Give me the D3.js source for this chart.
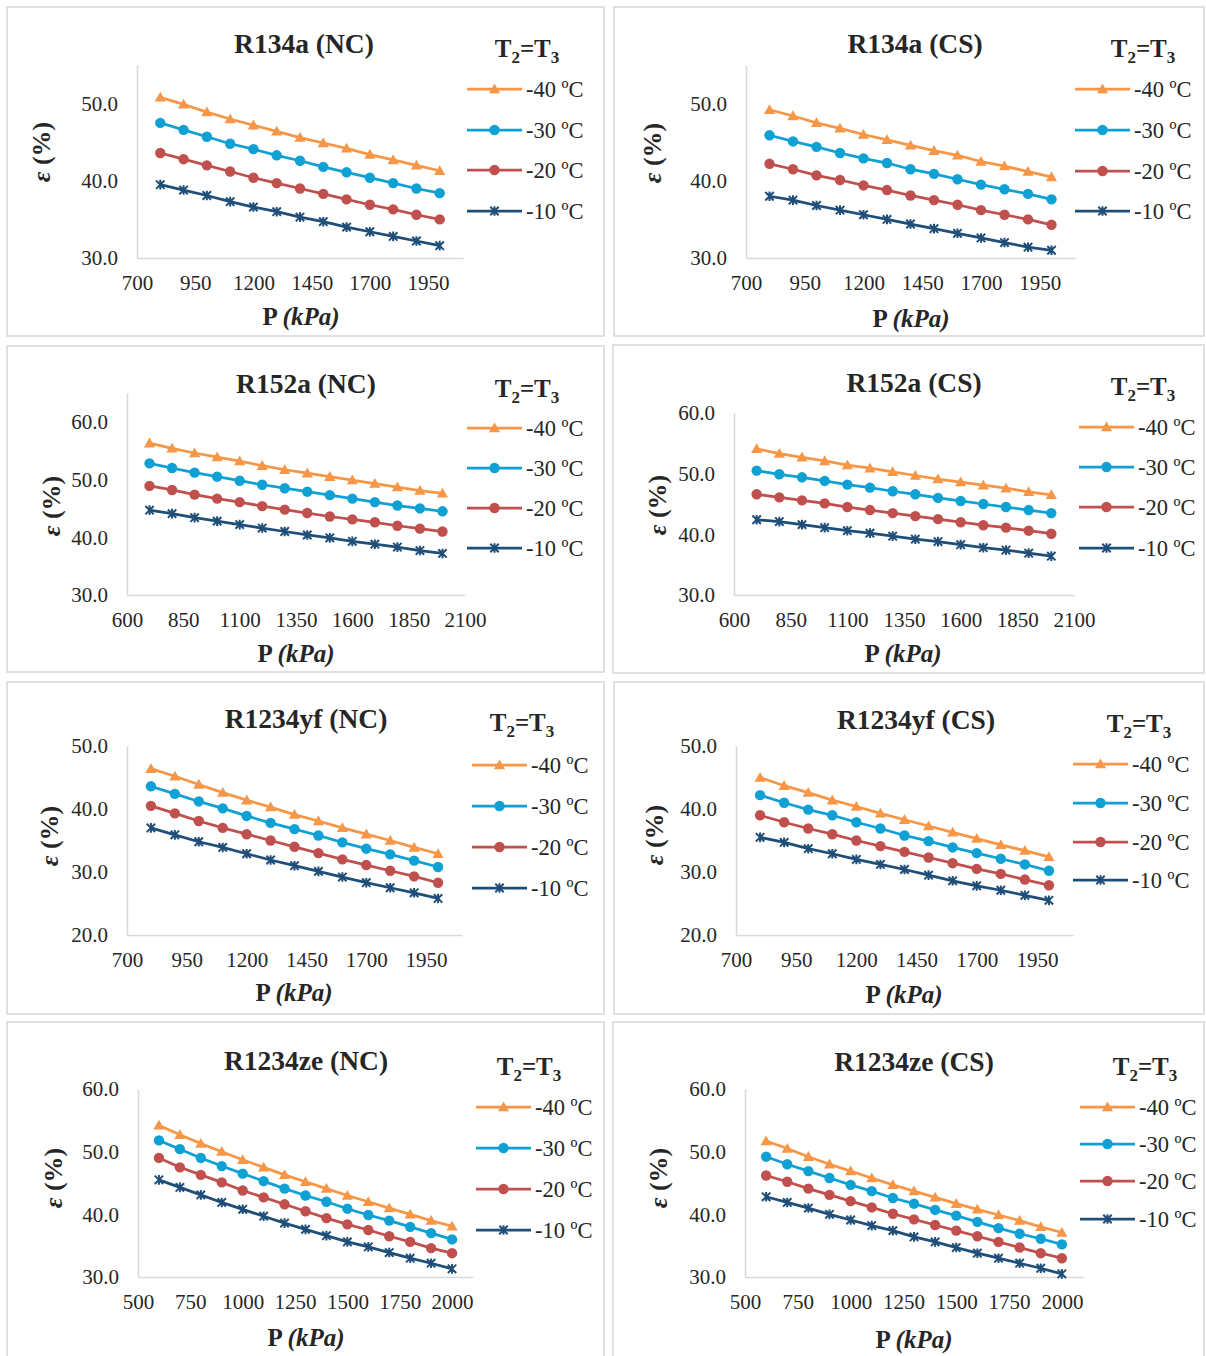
<!DOCTYPE html>
<html>
<head>
<meta charset="utf-8">
<script src="https://cdn.jsdelivr.net/npm/d3@7"></script>
<style>
  body { margin: 0; background: #fff; }
  svg { display: block; }
  text { font-family: "Liberation Serif", "Times New Roman", serif; fill: #262626; }
</style>
</head>
<body>
<svg id="chart" width="1206" height="1356"></svg>
<script>
// ---- series definitions (condenser temperature T2=T3) ----
const seriesLabels  = ["-40 ºC", "-30 ºC", "-20 ºC", "-10 ºC"];
const seriesColors  = ["#F79646", "#0FA0D4", "#C0504D", "#1F4E79"];
const seriesMarkers = ["triangle", "circle", "circle", "star"];

// ---- pressure grids (kPa) ----
const pressure800 = [800, 900, 1000, 1100, 1200, 1300, 1400, 1500, 1600, 1700, 1800, 1900, 2000];
const pressure700 = [700, 800, 900, 1000, 1100, 1200, 1300, 1400, 1500, 1600, 1700, 1800, 1900, 2000];
const pressure600 = [600, 700, 800, 900, 1000, 1100, 1200, 1300, 1400, 1500, 1600, 1700, 1800, 1900, 2000];

// ---- tick values ----
const xTicks700 = [700, 950, 1200, 1450, 1700, 1950];
const xTicks600 = [600, 850, 1100, 1350, 1600, 1850, 2100];
const xTicks500 = [500, 750, 1000, 1250, 1500, 1750, 2000];
const yTicks30to50 = [30, 40, 50];
const yTicks30to60 = [30, 40, 50, 60];
const yTicks20to50 = [20, 30, 40, 50];

// ---- efficiency ε (%) : R134a ----
const r134aNC_m40 = [50.8, 49.9, 48.9, 48.0, 47.2, 46.4, 45.6, 44.9, 44.2, 43.4, 42.7, 42.0, 41.3];
const r134aNC_m30 = [47.5, 46.6, 45.7, 44.8, 44.1, 43.3, 42.6, 41.8, 41.1, 40.4, 39.7, 39.0, 38.4];
const r134aNC_m20 = [43.6, 42.8, 42.0, 41.2, 40.4, 39.7, 39.0, 38.3, 37.6, 36.9, 36.3, 35.6, 35.0];
const r134aNC_m10 = [39.5, 38.8, 38.1, 37.3, 36.6, 36.0, 35.3, 34.7, 34.0, 33.4, 32.8, 32.2, 31.6];

const r134aCS_m40 = [49.2, 48.4, 47.5, 46.8, 46.0, 45.3, 44.6, 43.9, 43.3, 42.5, 41.9, 41.2, 40.5];
const r134aCS_m30 = [45.9, 45.1, 44.4, 43.6, 42.9, 42.3, 41.5, 40.9, 40.2, 39.5, 38.9, 38.3, 37.6];
const r134aCS_m20 = [42.2, 41.5, 40.7, 40.1, 39.4, 38.8, 38.1, 37.5, 36.9, 36.2, 35.6, 35.0, 34.3];
const r134aCS_m10 = [38.0, 37.5, 36.8, 36.2, 35.6, 35.0, 34.4, 33.8, 33.2, 32.6, 32.0, 31.4, 31.0];

// ---- R152a ----
const r152aNC_m40 = [56.3, 55.4, 54.6, 53.9, 53.2, 52.4, 51.7, 51.1, 50.5, 49.9, 49.3, 48.7, 48.1, 47.6];
const r152aNC_m30 = [52.8, 52.0, 51.2, 50.5, 49.8, 49.1, 48.5, 47.9, 47.3, 46.7, 46.1, 45.5, 45.0, 44.5];
const r152aNC_m20 = [48.9, 48.2, 47.4, 46.7, 46.1, 45.4, 44.8, 44.2, 43.6, 43.1, 42.6, 42.0, 41.5, 41.0];
const r152aNC_m10 = [44.7, 44.1, 43.4, 42.8, 42.2, 41.6, 41.0, 40.4, 39.9, 39.3, 38.8, 38.3, 37.7, 37.2];

const r152aCS_m40 = [54.1, 53.3, 52.7, 52.1, 51.4, 50.9, 50.3, 49.7, 49.1, 48.6, 48.1, 47.6, 47.0, 46.5];
const r152aCS_m30 = [50.5, 49.9, 49.4, 48.8, 48.2, 47.7, 47.1, 46.6, 46.0, 45.5, 45.0, 44.5, 44.0, 43.5];
const r152aCS_m20 = [46.6, 46.1, 45.6, 45.1, 44.5, 44.0, 43.5, 43.0, 42.5, 42.0, 41.5, 41.1, 40.6, 40.1];
const r152aCS_m10 = [42.4, 42.1, 41.6, 41.1, 40.6, 40.2, 39.7, 39.2, 38.8, 38.3, 37.8, 37.4, 36.9, 36.4];

// ---- R1234yf ----
const r1234yfNC_m40 = [46.4, 45.2, 43.9, 42.6, 41.4, 40.3, 39.1, 38.1, 37.0, 36.0, 35.0, 33.9, 32.9];
const r1234yfNC_m30 = [43.6, 42.4, 41.2, 40.1, 38.9, 37.8, 36.8, 35.8, 34.7, 33.7, 32.8, 31.8, 30.8];
const r1234yfNC_m20 = [40.5, 39.3, 38.1, 37.0, 36.0, 35.0, 34.0, 33.0, 32.0, 31.1, 30.2, 29.3, 28.3];
const r1234yfNC_m10 = [37.0, 35.9, 34.8, 33.9, 32.9, 31.9, 31.0, 30.1, 29.2, 28.3, 27.5, 26.7, 25.8];

const r1234yfCS_m40 = [45.0, 43.7, 42.6, 41.4, 40.4, 39.3, 38.3, 37.3, 36.3, 35.3, 34.3, 33.4, 32.4];
const r1234yfCS_m30 = [42.2, 41.0, 39.9, 39.0, 37.9, 36.9, 35.8, 34.9, 33.9, 33.0, 32.1, 31.2, 30.2];
const r1234yfCS_m20 = [39.0, 37.9, 36.9, 36.0, 35.0, 34.1, 33.2, 32.3, 31.4, 30.5, 29.7, 28.8, 27.9];
const r1234yfCS_m10 = [35.5, 34.7, 33.7, 32.9, 32.0, 31.2, 30.4, 29.5, 28.6, 27.8, 27.1, 26.3, 25.5];

// ---- R1234ze ----
const r1234zeNC_m40 = [54.2, 52.7, 51.3, 50.0, 48.7, 47.5, 46.3, 45.2, 44.1, 43.0, 42.0, 41.0, 40.0, 39.0, 38.1];
const r1234zeNC_m30 = [51.8, 50.4, 49.0, 47.7, 46.5, 45.3, 44.1, 43.0, 42.0, 40.9, 39.9, 39.0, 38.0, 37.0, 36.0];
const r1234zeNC_m20 = [49.0, 47.5, 46.3, 45.1, 43.8, 42.7, 41.6, 40.5, 39.4, 38.4, 37.5, 36.5, 35.6, 34.6, 33.8];
const r1234zeNC_m10 = [45.5, 44.3, 43.1, 41.9, 40.8, 39.7, 38.6, 37.6, 36.6, 35.6, 34.8, 33.9, 33.0, 32.2, 31.3];

const r1234zeCS_m40 = [51.7, 50.5, 49.2, 48.0, 46.9, 45.8, 44.7, 43.7, 42.7, 41.7, 40.8, 39.9, 39.0, 38.0, 37.1];
const r1234zeCS_m30 = [49.2, 48.0, 46.9, 45.8, 44.7, 43.7, 42.6, 41.7, 40.7, 39.8, 38.8, 37.8, 36.9, 36.1, 35.2];
const r1234zeCS_m20 = [46.2, 45.2, 44.1, 43.1, 42.1, 41.1, 40.1, 39.2, 38.3, 37.4, 36.5, 35.6, 34.7, 33.8, 33.0];
const r1234zeCS_m10 = [42.8, 41.9, 41.0, 40.0, 39.1, 38.2, 37.4, 36.4, 35.6, 34.7, 33.8, 33.0, 32.2, 31.4, 30.5];

// ---- panel definitions: data references + placement on the page ----
const panels = [
  { title: "R134a (NC)", x: pressure800, ys: [r134aNC_m40, r134aNC_m30, r134aNC_m20, r134aNC_m10],
    xDomain: [700, 2100], yDomain: [30, 55], xTicks: xTicks700, yTicks: yTicks30to50,
    box: [7, 7, 597, 329], plot: [137, 463, 65, 258], titlePos: [304, 53],
    legTitle: [527, 57], legLine: [467, 522], legText: 526, legRows: [89, 130, 170, 211],
    yLab: [41, 152], xLab: [301, 325] },
  { title: "R134a (CS)", x: pressure800, ys: [r134aCS_m40, r134aCS_m30, r134aCS_m20, r134aCS_m10],
    xDomain: [700, 2100], yDomain: [30, 55], xTicks: xTicks700, yTicks: yTicks30to50,
    box: [614, 7, 590, 329], plot: [746, 1075, 65, 258], titlePos: [915, 53],
    legTitle: [1143, 57], legLine: [1075, 1130], legText: 1134, legRows: [89, 130, 171, 211],
    yLab: [652, 153], xLab: [911, 327] },
  { title: "R152a (NC)", x: pressure700, ys: [r152aNC_m40, r152aNC_m30, r152aNC_m20, r152aNC_m10],
    xDomain: [600, 2100], yDomain: [30, 65], xTicks: xTicks600, yTicks: yTicks30to60,
    box: [7, 346, 597, 326], plot: [127, 465, 393, 595], titlePos: [306, 393],
    legTitle: [527, 397], legLine: [467, 522], legText: 526, legRows: [428, 468, 508, 548],
    yLab: [51, 506], xLab: [296, 662] },
  { title: "R152a (CS)", x: pressure700, ys: [r152aCS_m40, r152aCS_m30, r152aCS_m20, r152aCS_m10],
    xDomain: [600, 2100], yDomain: [30, 60], xTicks: xTicks600, yTicks: yTicks30to60,
    box: [613, 345, 591, 328], plot: [734, 1074, 413, 595], titlePos: [914, 392],
    legTitle: [1143, 395], legLine: [1079, 1134], legText: 1138, legRows: [427, 467, 507, 548],
    yLab: [657, 505], xLab: [903, 662] },
  { title: "R1234yf (NC)", x: pressure800, ys: [r1234yfNC_m40, r1234yfNC_m30, r1234yfNC_m20, r1234yfNC_m10],
    xDomain: [700, 2100], yDomain: [20, 50], xTicks: xTicks700, yTicks: yTicks20to50,
    box: [7, 682, 597, 332], plot: [127, 462, 746, 935], titlePos: [306, 728],
    legTitle: [522, 731], legLine: [472, 527], legText: 531, legRows: [765, 806, 847, 888],
    yLab: [49, 836], xLab: [294, 1001] },
  { title: "R1234yf (CS)", x: pressure800, ys: [r1234yfCS_m40, r1234yfCS_m30, r1234yfCS_m20, r1234yfCS_m10],
    xDomain: [700, 2100], yDomain: [20, 50], xTicks: xTicks700, yTicks: yTicks20to50,
    box: [614, 682, 590, 332], plot: [736, 1073, 746, 935], titlePos: [916, 729],
    legTitle: [1139, 732], legLine: [1073, 1128], legText: 1132, legRows: [764, 803, 842, 880],
    yLab: [654, 835], xLab: [904, 1003] },
  { title: "R1234ze (NC)", x: pressure600, ys: [r1234zeNC_m40, r1234zeNC_m30, r1234zeNC_m20, r1234zeNC_m10],
    xDomain: [500, 2100], yDomain: [30, 60], xTicks: xTicks500, yTicks: yTicks30to60,
    box: [7, 1022, 597, 345], plot: [138, 473, 1089, 1277], titlePos: [306, 1070],
    legTitle: [529, 1075], legLine: [476, 531], legText: 535, legRows: [1107, 1148, 1189, 1230],
    yLab: [53, 1178], xLab: [306, 1346] },
  { title: "R1234ze (CS)", x: pressure600, ys: [r1234zeCS_m40, r1234zeCS_m30, r1234zeCS_m20, r1234zeCS_m10],
    xDomain: [500, 2100], yDomain: [30, 60], xTicks: xTicks500, yTicks: yTicks30to60,
    box: [613, 1022, 591, 345], plot: [745, 1083, 1089, 1277], titlePos: [914, 1071],
    legTitle: [1145, 1075], legLine: [1080, 1135], legText: 1139, legRows: [1107, 1144, 1181, 1219],
    yLab: [658, 1178], xLab: [914, 1348] }
];

const svg = d3.select("#chart");
svg.append("rect").attr("width", 1206).attr("height", 1356).attr("fill", "#fff");

const AXIS_COLOR = "#D9D9D9";

// draws one marker symbol centred at (0,0) inside group g
function drawMarker(g, kind, color) {
  if (kind === "triangle") {
    g.append("path").attr("d", "M0,-5.6L5.6,4.2L-5.6,4.2Z").attr("fill", color);
  } else if (kind === "circle") {
    g.append("circle").attr("r", 5.2).attr("fill", color);
  } else {
    const s = 4.2;
    g.append("path")
      .attr("d", `M${-s},${-s}L${s},${s}M${-s},${s}L${s},${-s}M0,${-s - 0.6}L0,${s + 0.6}`)
      .attr("stroke", color).attr("stroke-width", 2).attr("fill", "none");
  }
}

panels.forEach(p => {
  const g = svg.append("g");
  const [bx, by, bw, bh] = p.box;
  g.append("rect").attr("x", bx).attr("y", by).attr("width", bw).attr("height", bh)
    .attr("fill", "#fff").attr("stroke", AXIS_COLOR).attr("stroke-width", 1.6);

  const [x0, x1, yT, yB] = p.plot;
  const x = d3.scaleLinear().domain(p.xDomain).range([x0, x1]);
  const y = d3.scaleLinear().domain(p.yDomain).range([yB, yT]);

  // y axis (line + labels, no tick marks)
  const yAxis = d3.axisLeft(y).tickValues(p.yTicks).tickSize(0).tickPadding(19)
    .tickFormat(d3.format(".1f"));
  const ya = g.append("g").attr("transform", `translate(${x0},0)`).call(yAxis);
  ya.select(".domain").attr("stroke", AXIS_COLOR).attr("stroke-width", 1.6);
  ya.selectAll("text").attr("font-size", 21).attr("fill", "#333")
    .style("font-family", '"Liberation Serif", serif');

  // x axis
  const xAxis = d3.axisBottom(x).tickValues(p.xTicks).tickSize(0).tickPadding(17)
    .tickFormat(d3.format("d"));
  const xa = g.append("g").attr("transform", `translate(0,${yB})`).call(xAxis);
  xa.select(".domain").attr("stroke", AXIS_COLOR).attr("stroke-width", 1.6);
  xa.selectAll("text").attr("font-size", 21).attr("fill", "#333")
    .style("font-family", '"Liberation Serif", serif');

  // series lines and markers
  p.ys.forEach((vals, i) => {
    const pts = p.x.map((px, k) => [px, vals[k]]);
    g.append("path").datum(pts)
      .attr("d", d3.line().x(d => x(d[0])).y(d => y(d[1])))
      .attr("fill", "none").attr("stroke", seriesColors[i]).attr("stroke-width", 2.75);
    pts.forEach(d => {
      const m = g.append("g").attr("transform", `translate(${x(d[0])},${y(d[1])})`);
      drawMarker(m, seriesMarkers[i], seriesColors[i]);
    });
  });

  // chart title
  g.append("text").attr("x", p.titlePos[0]).attr("y", p.titlePos[1])
    .attr("text-anchor", "middle").attr("font-size", 27.5).attr("font-weight", "bold")
    .attr("fill", "#222").text(p.title);

  // legend title T2=T3
  const lt = g.append("text").attr("x", p.legTitle[0]).attr("y", p.legTitle[1])
    .attr("text-anchor", "middle").attr("font-size", 25).attr("font-weight", "bold").attr("fill", "#222");
  lt.append("tspan").text("T");
  lt.append("tspan").attr("font-size", 17).attr("dy", 6).text("2");
  lt.append("tspan").attr("dy", -6).text("=T");
  lt.append("tspan").attr("font-size", 17).attr("dy", 6).text("3");

  // legend entries
  p.legRows.forEach((ly, i) => {
    g.append("line").attr("x1", p.legLine[0]).attr("x2", p.legLine[1]).attr("y1", ly).attr("y2", ly)
      .attr("stroke", seriesColors[i]).attr("stroke-width", 2.75);
    const m = g.append("g").attr("transform", `translate(${(p.legLine[0] + p.legLine[1]) / 2},${ly})`);
    drawMarker(m, seriesMarkers[i], seriesColors[i]);
    g.append("text").attr("x", p.legText).attr("y", ly).attr("dy", "0.35em")
      .attr("font-size", 22.5).attr("fill", "#333").text(seriesLabels[i]);
  });

  // y axis title ε (%)
  const yl = g.append("text")
    .attr("transform", `translate(${p.yLab[0]},${p.yLab[1]}) rotate(-90)`)
    .attr("text-anchor", "middle").attr("dy", "0.35em")
    .attr("font-size", 26).attr("font-weight", "bold").attr("fill", "#222");
  yl.append("tspan").attr("font-style", "italic").text("ε");
  yl.append("tspan").text(" (%)");

  // x axis title P (kPa)
  const xl = g.append("text").attr("x", p.xLab[0]).attr("y", p.xLab[1])
    .attr("text-anchor", "middle").attr("font-size", 25).attr("font-weight", "bold").attr("fill", "#222");
  xl.append("tspan").text("P ");
  xl.append("tspan").attr("font-style", "italic").text("(kPa)");
});
</script>
</body>
</html>
